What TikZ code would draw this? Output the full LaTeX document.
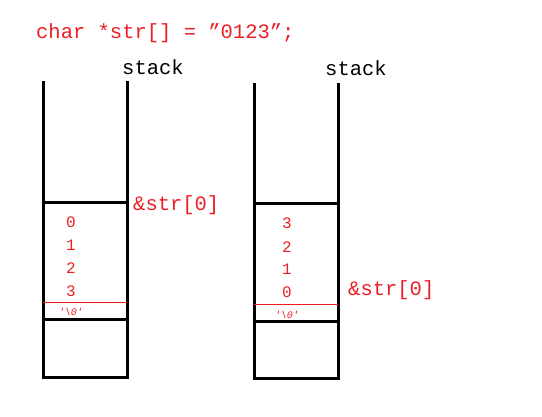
\documentclass[tikz,border=0pt]{standalone}
\usepackage{fontspec}
\setmainfont{Liberation Serif}
\newfontfamily\codefont{Liberation Mono}
\definecolor{cred}{RGB}{236,30,36}
\begin{document}
\begin{tikzpicture}[x=1pt,y=-1pt,
  wall/.style={line width=3pt,line cap=rect},
  sep/.style={cred,line width=1pt},
  code/.style={cred,font=\codefont\fontsize{20.5}{22}\selectfont,inner sep=0pt},
  lbl/.style={black,font=\codefont\fontsize{20.5}{22}\selectfont,inner sep=0pt},
  digit/.style={cred,font=\codefont\fontsize{16}{18}\selectfont,inner sep=0pt},
  nul/.style={cred,font=\codefont\itshape\fontsize{10}{11}\selectfont,inner sep=0pt}]
\useasboundingbox (0,0) rectangle (542,417);
% title
\node[code,anchor=west] (title) at (36,33) {char *str[] = ”0123”;};
% left stack
\node[lbl,anchor=west] (s1) at (122,67) {stack};
\draw[wall] (43,83) -- (43,378) -- (127,378) -- (127,83);
\draw[wall] (43,203) -- (127,203);
\draw[wall] (43,320) -- (127,320);
\draw[sep] (43,303) -- (127,303);
\node[digit] (l0) at (71,222) {0};
\node[digit] (l1) at (71,245) {1};
\node[digit] (l2) at (71,268) {2};
\node[digit] (l3) at (71,291) {3};
\node[nul] (lz) at (71,312) {'\textbackslash0'};
\node[code,anchor=west] (a1) at (133,205) {\&str[0]};
% right stack
\node[lbl,anchor=west] (s2) at (325,68) {stack};
\draw[wall] (254,85) -- (254,379) -- (338,379) -- (338,85);
\draw[wall] (254,204) -- (338,204);
\draw[wall] (254,322) -- (338,322);
\draw[sep] (254,305) -- (338,305);
\node[digit] (r3) at (287,223) {3};
\node[digit] (r2) at (287,247) {2};
\node[digit] (r1) at (287,269) {1};
\node[digit] (r0) at (287,292) {0};
\node[nul] (rz) at (287,315) {'\textbackslash0'};
\node[code,anchor=west] (a2) at (348,290) {\&str[0]};
\end{tikzpicture}
\end{document}
